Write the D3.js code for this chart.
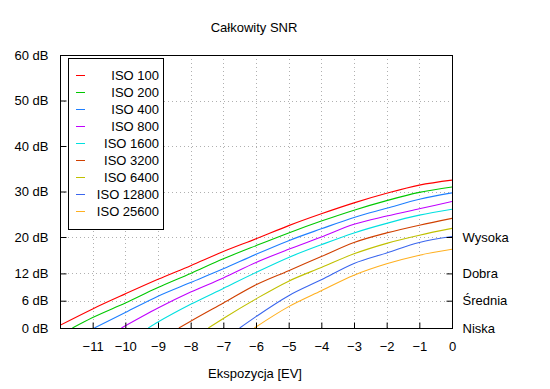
<!DOCTYPE html>
<html><head><meta charset="utf-8">
<script src="https://cdn.jsdelivr.net/npm/d3@7"></script>
<style>
body{margin:0;background:#fff;}
text{font-family:"Liberation Sans",Arial,sans-serif;font-size:13px;fill:#000;}
</style></head>
<body><svg id="c" width="550" height="389"></svg>
<script>
const title = "Całkowity SNR";
const xLabel = "Ekspozycja [EV]";
const seriesNames = ["ISO 100","ISO 200","ISO 400","ISO 800","ISO 1600","ISO 3200","ISO 6400","ISO 12800","ISO 25600"];
const seriesColors = ["#ff0000","#00c800","#1e7fff","#c000ff","#00e0e0","#d04000","#c0c000","#3a66ee","#ffb020"];
// EV positions and SNR (dB) values per series
const ev100 = [-12,-11,-10,-9,-8,-7,-6,-5,-4,-3,-2,-1,0];
const db100 = [0.6,4.2,7.5,10.7,13.7,16.8,19.6,22.5,25.1,27.5,29.6,31.4,32.5];
const ev200 = [-11.62,-11,-10,-9,-8,-7,-6,-5,-4,-3,-2,-1,0];
const db200 = [0,2.3,5.5,8.9,12.0,15.2,18.1,20.9,23.5,25.9,28.0,29.8,31.0];
const ev400 = [-10.95,-10,-9,-8,-7,-6,-5,-4,-3,-2,-1,0];
const db400 = [0,3.4,7.0,10.0,13.0,16.2,19.2,21.8,24.3,26.3,28.3,29.7];
const ev800 = [-10.12,-9,-8,-7,-6,-5,-4,-3,-2,-1,0];
const db800 = [0,4.4,7.9,11.0,14.4,17.3,20.0,22.8,24.6,26.2,27.8];
const ev1600 = [-9.3,-9,-8,-7,-6,-5,-4,-3,-2,-1,0];
const db1600 = [0,1.3,5.2,8.7,12.2,15.5,18.3,20.9,23.0,24.8,26.1];
const ev3200 = [-8.36,-8,-7,-6,-5,-4,-3,-2,-1,0];
const db3200 = [0,1.5,5.5,9.5,12.6,15.7,18.8,20.9,22.6,24.1];
const ev6400 = [-7.46,-7,-6,-5,-4,-3,-2,-1,0];
const db6400 = [0,2.1,6.4,10.3,13.3,16.3,18.6,20.4,21.9];
const ev12800 = [-6.5,-6,-5,-4,-3,-2,-1,0];
const db12800 = [0,2.5,7.1,10.6,14.2,16.5,18.8,20.1];
const ev25600 = [-6.05,-5,-4,-3,-2,-1,0];
const db25600 = [0,4.7,8.2,11.6,14.1,16.0,17.3];
const xTicks = [-11,-10,-9,-8,-7,-6,-5,-4,-3,-2,-1,0];
const yTicks = [0,6,12,20,30,40,50,60];
const rightTicks = [0,6,12,20];
const rightLabels = ["Niska","Średnia","Dobra","Wysoka"];

const evs = [ev100,ev200,ev400,ev800,ev1600,ev3200,ev6400,ev12800,ev25600];
const dbs = [db100,db200,db400,db800,db1600,db3200,db6400,db12800,db25600];

const L=60,R=452,T=55,B=328;
const svg=d3.select("#c");
const x=d3.scaleLinear().domain([-12,0]).range([L,R]);
const y=d3.scaleLinear().domain([0,60]).range([B,T]);

// grid
const g=svg.append("g");
g.selectAll("line.gx").data(xTicks.filter(d=>d>-12&&d<0)).enter().append("line")
 .attr("x1",d=>Math.round(x(d))+0.5).attr("x2",d=>Math.round(x(d))+0.5).attr("y1",T).attr("y2",B)
 .attr("stroke","#b0b0b0").attr("stroke-dasharray","1,3");
g.selectAll("line.gy").data(yTicks.filter(d=>d>0&&d<60)).enter().append("line")
 .attr("y1",d=>Math.round(y(d))+0.5).attr("y2",d=>Math.round(y(d))+0.5).attr("x1",L).attr("x2",R)
 .attr("stroke","#b0b0b0").attr("stroke-dasharray","1,3");

// curves
svg.append("clipPath").attr("id","pc").append("rect").attr("x",L).attr("y",T).attr("width",R-L).attr("height",B-T);
const line=d3.line().x(d=>x(d[0])).y(d=>y(d[1])).curve(d3.curveMonotoneX);
seriesNames.forEach((n,i)=>{
  const pts=evs[i].map((e,j)=>[e,dbs[i][j]]);
  svg.append("path").attr("d",line(pts)).attr("fill","none").attr("stroke",seriesColors[i]).attr("stroke-width",1.1).attr("clip-path","url(#pc)");
});

// axes
const ax=d3.axisBottom(x).tickValues(xTicks).tickSize(-6).tickPadding(13).tickFormat(d3.format("d"));
const gx=svg.append("g").attr("transform",`translate(0,${B+0.5})`).call(ax);
const ay=d3.axisLeft(y).tickValues(yTicks).tickSize(-6).tickPadding(12).tickFormat(d=>d+" dB");
const gy=svg.append("g").attr("transform",`translate(${L+0.5},0)`).call(ay);
const ar=d3.axisRight(y).tickValues(rightTicks).tickSize(-6).tickPadding(10).tickFormat((d,i)=>rightLabels[i]);
const gr=svg.append("g").attr("transform",`translate(${R+0.5},0)`).call(ar);
[gx,gy,gr].forEach(a=>{a.select(".domain").remove();a.selectAll("line").attr("stroke","#000");a.selectAll("text").attr("font-family",null).attr("font-size",null);});
gx.selectAll("text").attr("dy","0.71em");

svg.append("rect").attr("x",L+0.5).attr("y",T+0.5).attr("width",R-L).attr("height",B-T).attr("fill","none").attr("stroke","#000");

// legend
const lg=svg.append("g");
lg.append("rect").attr("x",68.5).attr("y",58.5).attr("width",95).attr("height",171).attr("fill","#fff").attr("stroke","#000");
seriesNames.forEach((n,i)=>{
  const yy=75.5+i*17;
  lg.append("line").attr("x1",76).attr("x2",85).attr("y1",yy).attr("y2",yy).attr("stroke",seriesColors[i]);
  lg.append("text").attr("x",159).attr("y",yy).attr("dy","0.35em").attr("text-anchor","end").text(n);
});

svg.append("text").attr("x",254).attr("y",32).attr("text-anchor","middle").text(title);
svg.append("text").attr("x",255).attr("y",378).attr("text-anchor","middle").text(xLabel);
</script></body></html>
